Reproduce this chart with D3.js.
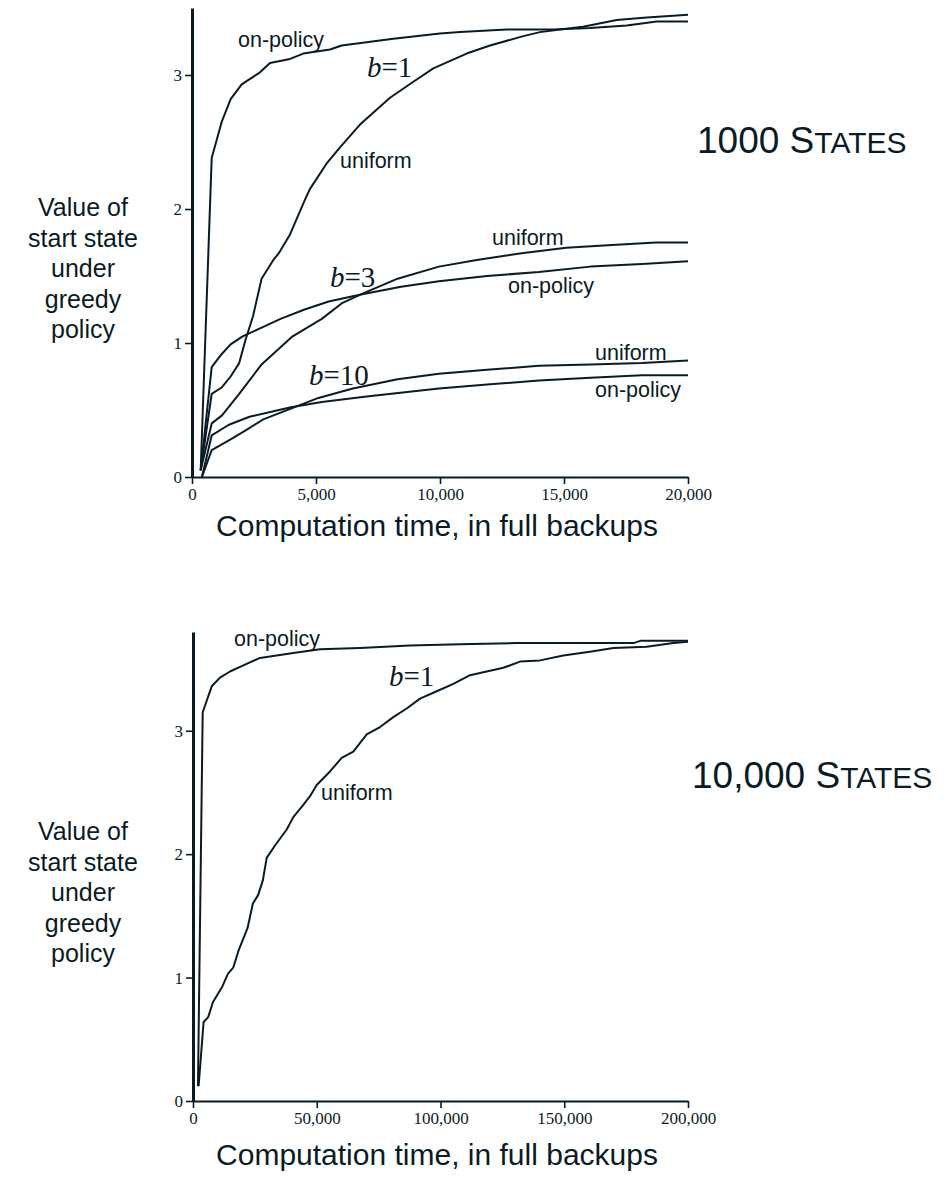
<!DOCTYPE html>
<html><head><meta charset="utf-8">
<script src="https://cdn.jsdelivr.net/npm/d3@7"></script>
<style>
body{margin:0;background:#fff;}
svg{display:block;}
</style></head>
<body>
<svg id="c" width="945" height="1177"></svg>
<script>
// ---------- DATA ----------
// Top panel: 1000 states, x = computation time (full backups), y = value of start state
const topXTicks = [0, 5000, 10000, 15000, 20000];
const topYTicks = [0, 1, 2, 3];
const top_b1_onpolicy = [[350,0.05],[794,2.38],[1196,2.65],[1559,2.82],[2003,2.93],[2742,3.02],[3145,3.09],[3952,3.12],[4489,3.16],[5565,3.19],[6035,3.22],[8118,3.27],[10000,3.31],[10806,3.32],[12690,3.34],[14570,3.34],[16048,3.35],[17528,3.37],[18737,3.40],[20000,3.40]];
const top_b1_uniform = [[350,0.05],[794,0.62],[1210,0.67],[1556,0.75],[1903,0.85],[2153,1.02],[2460,1.20],[2806,1.48],[3280,1.62],[3500,1.67],[3952,1.81],[4556,2.07],[4758,2.15],[5430,2.34],[5968,2.46],[6774,2.63],[7984,2.83],[8925,2.95],[9730,3.05],[11075,3.16],[12016,3.22],[13360,3.29],[14032,3.32],[14839,3.34],[15766,3.36],[17125,3.41],[18335,3.43],[20000,3.45]];
const top_b3_uniform = [[350,0.05],[794,0.40],[1210,0.46],[1903,0.62],[2806,0.84],[4056,1.05],[5234,1.18],[6069,1.30],[6903,1.37],[8290,1.48],[9956,1.57],[11483,1.62],[13290,1.67],[15093,1.71],[16763,1.73],[18706,1.75],[20000,1.75]];
const top_b3_onpolicy = [[350,0.05],[794,0.82],[1210,0.92],[1556,0.99],[2040,1.05],[2875,1.12],[3569,1.18],[4540,1.25],[5512,1.31],[6762,1.36],[8427,1.42],[9956,1.46],[11900,1.50],[13984,1.53],[16065,1.57],[18149,1.59],[20000,1.61]];
const top_b10_uniform = [[400,0.0],[794,0.20],[1556,0.28],[2181,0.35],[2875,0.43],[3988,0.51],[5097,0.59],[6484,0.66],[8290,0.73],[9956,0.77],[11900,0.80],[13984,0.83],[16065,0.84],[18149,0.85],[20000,0.87]];
const top_b10_onpolicy = [[400,0.0],[794,0.31],[1488,0.39],[2319,0.45],[3988,0.52],[5234,0.56],[7040,0.60],[9956,0.66],[11900,0.69],[13984,0.72],[16065,0.74],[18149,0.76],[20000,0.76]];

// Bottom panel: 10,000 states
const botXTicks = [0, 50000, 100000, 150000, 200000];
const botYTicks = [0, 1, 2, 3];
const bot_b1_onpolicy = [[2000,0.12],[3919,3.15],[7556,3.36],[10909,3.43],[14950,3.48],[20323,3.53],[27070,3.59],[40525,3.63],[51313,3.66],[67475,3.67],[87677,3.69],[107880,3.70],[131000,3.71],[178000,3.71],[181000,3.73],[200000,3.73]];
const bot_b1_uniform = [[2263,0.12],[4283,0.64],[6141,0.68],[8040,0.80],[11919,0.93],[14101,1.03],[16242,1.08],[18424,1.22],[22020,1.40],[24202,1.60],[26343,1.67],[28242,1.79],[29777,1.97],[33131,2.07],[37858,2.20],[40525,2.30],[44565,2.40],[47273,2.47],[49980,2.56],[55353,2.67],[60081,2.78],[64768,2.83],[70182,2.97],[75556,3.03],[80929,3.11],[86343,3.18],[91717,3.26],[98465,3.32],[105200,3.38],[111919,3.45],[125389,3.51],[132121,3.56],[140202,3.57],[149616,3.61],[160404,3.64],[169830,3.67],[183300,3.68],[194077,3.71],[200000,3.72]];

const yTitleLines = ["Value of", "start state", "under", "greedy", "policy"];
const xTitle = "Computation time, in full backups";

// ---------- DRAW ----------
const ink = "#0b1b26";
const svg = d3.select("#c");
const sans = "'Liberation Sans', Arial, Helvetica, sans-serif";
const serif = "'Liberation Serif', 'Times New Roman', serif";

function panel(cfg) {
  const x = d3.scaleLinear().domain(cfg.xDomain).range(cfg.xRange);
  const y = d3.scaleLinear().domain(cfg.yDomain).range(cfg.yRange);
  const g = svg.append("g");

  const xa = g.append("g").attr("transform", `translate(0,${cfg.yRange[0]})`)
    .call(d3.axisBottom(x).tickValues(cfg.xTicks).tickFormat(d3.format(",")).tickSize(7).tickSizeOuter(0).tickPadding(4));
  xa.select(".domain").attr("stroke", ink).attr("stroke-width", 2.2);
  xa.selectAll(".tick line").attr("stroke", ink).attr("stroke-width", 1.6);
  xa.selectAll("text").attr("fill", ink).style("font-family", serif).style("font-size", "17px");

  const ya = g.append("g").attr("transform", `translate(${cfg.xRange[0]},0)`)
    .call(d3.axisLeft(y).tickValues(cfg.yTicks).tickFormat(d3.format("d")).tickSize(7).tickSizeOuter(0).tickPadding(3));
  ya.select(".domain").attr("stroke", ink).attr("stroke-width", 3);
  ya.selectAll(".tick line").attr("stroke", ink).attr("stroke-width", 1.6);
  ya.selectAll("text").attr("fill", ink).style("font-family", serif).style("font-size", "17px");

  const line = d3.line().x(d => x(d[0])).y(d => y(d[1]));
  cfg.series.forEach(s => {
    g.append("path").datum(s).attr("d", line)
      .attr("fill", "none").attr("stroke", ink).attr("stroke-width", 2)
      .attr("stroke-linejoin", "round");
  });

  // labels
  cfg.labels.forEach(l => {
    if (l.b) {
      const t = g.append("text").attr("x", l.x).attr("y", l.y)
        .style("font-family", serif).style("font-size", "29px").attr("fill", ink);
      t.append("tspan").style("font-style", "italic").text("b");
      t.append("tspan").text("=" + l.b);
    } else {
      g.append("text").attr("x", l.x).attr("y", l.y).text(l.t)
        .style("font-family", sans).style("font-size", "21.5px").attr("fill", ink);
    }
  });

  // x title
  g.append("text").attr("x", cfg.xTitlePos[0]).attr("y", cfg.xTitlePos[1])
    .attr("text-anchor", "middle").text(xTitle)
    .style("font-family", sans).style("font-size", "30px").attr("fill", ink);

  // y title
  const yt = g.append("text").attr("text-anchor", "middle")
    .style("font-family", sans).style("font-size", "25px").attr("fill", ink);
  yTitleLines.forEach((s, i) => {
    yt.append("tspan").attr("x", cfg.yTitlePos[0]).attr("y", cfg.yTitlePos[1] + i * 30.5).text(s);
  });

  // panel title with small caps
  const pt = g.append("text").attr("x", cfg.titlePos[0]).attr("y", cfg.titlePos[1])
    .style("font-family", sans).attr("fill", ink);
  pt.append("tspan").style("font-size", "37px").text(cfg.title[0]);
  pt.append("tspan").style("font-size", "30px").text(cfg.title[1]);
}

panel({
  xDomain: [0, 20000], xRange: [192, 688],
  yDomain: [0, 3.5], yRange: [477, 8],
  xTicks: topXTicks, yTicks: topYTicks,
  series: [top_b1_onpolicy, top_b1_uniform, top_b3_uniform, top_b3_onpolicy, top_b10_uniform, top_b10_onpolicy],
  labels: [
    {t: "on-policy", x: 238, y: 47},
    {b: "1", x: 367, y: 77},
    {t: "uniform", x: 340, y: 168},
    {t: "uniform", x: 492, y: 245},
    {b: "3", x: 330, y: 287},
    {t: "on-policy", x: 508, y: 293},
    {t: "uniform", x: 595, y: 360},
    {b: "10", x: 309, y: 385},
    {t: "on-policy", x: 595, y: 397}
  ],
  xTitlePos: [437, 536],
  yTitlePos: [83, 216],
  title: ["1000 S", "TATES"], titlePos: [697, 153]
});

panel({
  xDomain: [0, 200000], xRange: [193, 688],
  yDomain: [0, 3.8], yRange: [1101, 632],
  xTicks: botXTicks, yTicks: botYTicks,
  series: [bot_b1_onpolicy, bot_b1_uniform],
  labels: [
    {t: "on-policy", x: 234, y: 646},
    {b: "1", x: 389, y: 686},
    {t: "uniform", x: 321, y: 800}
  ],
  xTitlePos: [437, 1165],
  yTitlePos: [83, 840],
  title: ["10,000 S", "TATES"], titlePos: [692, 788]
});
</script>
</body></html>
